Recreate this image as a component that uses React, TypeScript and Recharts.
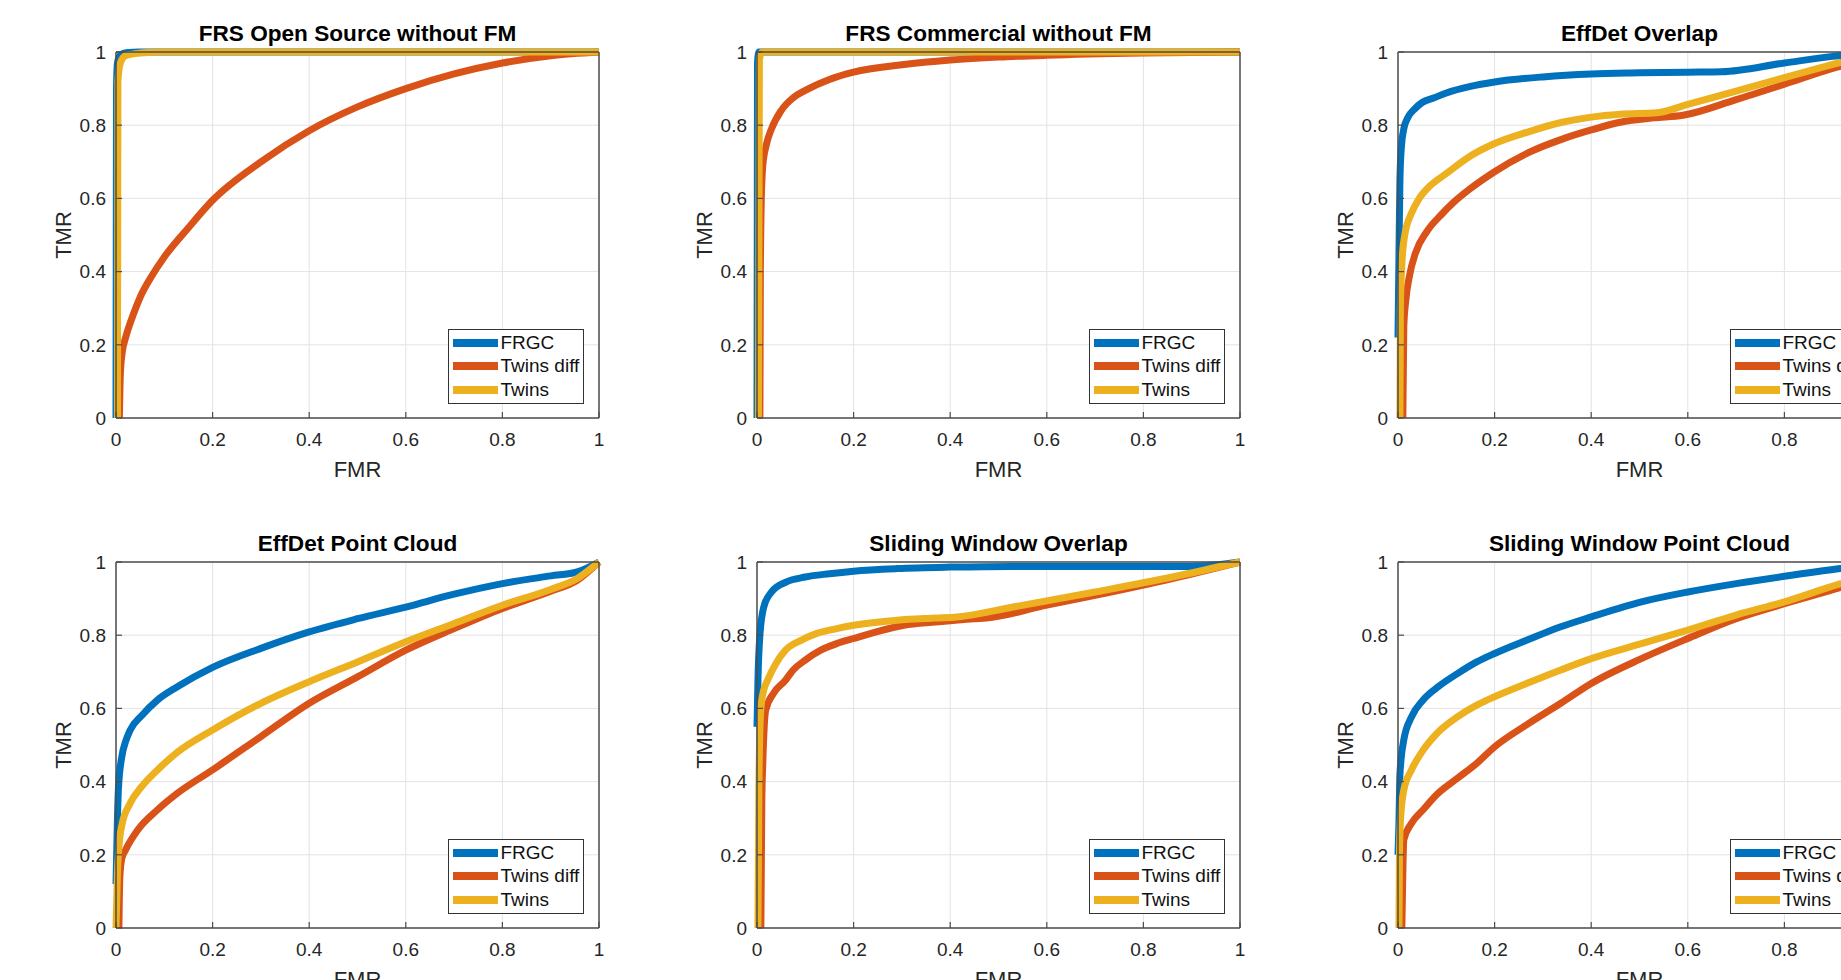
import React from 'react';
import { LineChart, Line, XAxis, YAxis, CartesianGrid, Legend } from 'recharts';

type Pair = [number, number];

const seriesNames = ['FRGC', 'Twins diff', 'Twins'];
const seriesColors = ['#0072BD', '#D95319', '#EDB120'];
const axisTicks = [0, 0.2, 0.4, 0.6, 0.8, 1];

// FRS Open Source without FM
const osFrgc: Pair[] = [[0, 0], [0.001, 0.9], [0.003, 0.97], [0.008, 0.99], [0.02, 0.998], [0.05, 1], [1, 1]];
const osTwinsDiff: Pair[] = [[0.007, 0], [0.009, 0.12], [0.013, 0.18], [0.02, 0.22], [0.035, 0.28], [0.05, 0.33], [0.075, 0.39], [0.1, 0.44], [0.15, 0.52], [0.2, 0.595], [0.3, 0.7], [0.4, 0.785], [0.5, 0.85], [0.6, 0.9], [0.7, 0.94], [0.8, 0.97], [0.9, 0.99], [1, 1]];
const osTwins: Pair[] = [[0.003, 0], [0.0035, 0.5], [0.004, 0.92], [0.009, 0.97], [0.02, 0.99], [0.05, 0.997], [0.1, 1], [1, 1]];

// FRS Commercial without FM
const coFrgc: Pair[] = [[0, 0], [0.001, 0.97], [0.004, 1], [1, 1]];
const coTwinsDiff: Pair[] = [[0.006, 0], [0.007, 0.4], [0.009, 0.6], [0.012, 0.69], [0.02, 0.75], [0.03, 0.79], [0.05, 0.84], [0.075, 0.875], [0.1, 0.895], [0.15, 0.925], [0.2, 0.945], [0.3, 0.965], [0.4, 0.978], [0.5, 0.986], [0.6, 0.991], [0.8, 0.997], [1, 1]];
const coTwins: Pair[] = [[0.003, 0], [0.004, 0.5], [0.005, 0.98], [0.01, 1], [1, 1]];

// EffDet Overlap
const eoFrgc: Pair[] = [[0, 0.22], [0.002, 0.45], [0.004, 0.65], [0.007, 0.74], [0.012, 0.79], [0.02, 0.82], [0.035, 0.845], [0.05, 0.862], [0.075, 0.875], [0.1, 0.888], [0.15, 0.906], [0.2, 0.918], [0.3, 0.932], [0.4, 0.94], [0.5, 0.943], [0.6, 0.945], [0.67, 0.946], [0.8, 0.97], [0.9, 0.988], [1, 1]];
const eoTwinsDiff: Pair[] = [[0.01, 0], [0.012, 0.25], [0.016, 0.32], [0.024, 0.39], [0.036, 0.45], [0.06, 0.51], [0.09, 0.556], [0.115, 0.589], [0.15, 0.627], [0.2, 0.673], [0.27, 0.725], [0.34, 0.762], [0.4, 0.787], [0.46, 0.808], [0.53, 0.82], [0.59, 0.827], [0.7, 0.87], [0.8, 0.912], [0.9, 0.955], [1, 0.99]];
const eoTwins: Pair[] = [[0.004, 0], [0.005, 0.3], [0.008, 0.42], [0.014, 0.5], [0.028, 0.56], [0.044, 0.6], [0.067, 0.635], [0.1, 0.668], [0.15, 0.716], [0.2, 0.75], [0.27, 0.782], [0.34, 0.808], [0.4, 0.822], [0.46, 0.83], [0.536, 0.834], [0.6, 0.857], [0.7, 0.893], [0.8, 0.93], [0.9, 0.966], [1, 1]];

// EffDet Point Cloud
const epFrgc: Pair[] = [[0, 0.12], [0.003, 0.3], [0.005, 0.38], [0.012, 0.468], [0.02, 0.51], [0.029, 0.54], [0.053, 0.58], [0.086, 0.623], [0.127, 0.659], [0.2, 0.712], [0.3, 0.764], [0.4, 0.809], [0.5, 0.845], [0.6, 0.877], [0.7, 0.912], [0.8, 0.941], [0.9, 0.962], [0.955, 0.973], [1, 1]];
const epTwinsDiff: Pair[] = [[0.006, 0], [0.008, 0.14], [0.012, 0.19], [0.02, 0.214], [0.045, 0.268], [0.086, 0.323], [0.127, 0.368], [0.2, 0.432], [0.3, 0.523], [0.4, 0.614], [0.5, 0.686], [0.6, 0.759], [0.7, 0.818], [0.8, 0.873], [0.9, 0.92], [0.955, 0.95], [1, 1]];
const epTwins: Pair[] = [[0, 0], [0.003, 0.15], [0.006, 0.22], [0.012, 0.28], [0.029, 0.34], [0.053, 0.386], [0.086, 0.432], [0.127, 0.48], [0.2, 0.541], [0.3, 0.614], [0.4, 0.673], [0.5, 0.727], [0.6, 0.782], [0.7, 0.832], [0.8, 0.882], [0.9, 0.925], [0.955, 0.955], [1, 1]];

// Sliding Window Overlap
const swFrgc: Pair[] = [[0, 0.55], [0.002, 0.68], [0.006, 0.8], [0.014, 0.877], [0.03, 0.918], [0.06, 0.945], [0.1, 0.959], [0.15, 0.968], [0.2, 0.975], [0.29, 0.982], [0.4, 0.986], [0.53, 0.988], [0.7, 0.988], [0.9, 0.988], [1, 1]];
const swTwinsDiff: Pair[] = [[0.008, 0], [0.01, 0.35], [0.012, 0.45], [0.018, 0.595], [0.034, 0.641], [0.059, 0.677], [0.075, 0.705], [0.1, 0.732], [0.132, 0.759], [0.165, 0.777], [0.2, 0.791], [0.247, 0.809], [0.304, 0.827], [0.37, 0.836], [0.45, 0.845], [0.475, 0.847], [0.6, 0.882], [0.7, 0.909], [0.86, 0.955], [1, 1]];
const swTwins: Pair[] = [[0.002, 0], [0.004, 0.4], [0.008, 0.6], [0.014, 0.65], [0.022, 0.677], [0.038, 0.72], [0.059, 0.759], [0.091, 0.786], [0.124, 0.805], [0.165, 0.818], [0.2, 0.827], [0.29, 0.841], [0.37, 0.847], [0.414, 0.85], [0.53, 0.877], [0.7, 0.918], [0.86, 0.959], [1, 1]];

// Sliding Window Point Cloud
const spFrgc: Pair[] = [[0, 0.2], [0.002, 0.29], [0.004, 0.42], [0.012, 0.514], [0.028, 0.577], [0.052, 0.623], [0.083, 0.659], [0.123, 0.695], [0.163, 0.727], [0.2, 0.75], [0.266, 0.786], [0.337, 0.823], [0.4, 0.85], [0.504, 0.891], [0.6, 0.918], [0.7, 0.941], [0.8, 0.961], [0.915, 0.982], [1, 0.995]];
const spTwinsDiff: Pair[] = [[0.008, 0], [0.01, 0.15], [0.012, 0.241], [0.028, 0.286], [0.052, 0.323], [0.083, 0.368], [0.123, 0.409], [0.163, 0.45], [0.2, 0.495], [0.266, 0.555], [0.337, 0.614], [0.4, 0.668], [0.504, 0.736], [0.6, 0.791], [0.7, 0.845], [0.8, 0.886], [0.915, 0.93], [1, 0.965]];
const spTwins: Pair[] = [[0.002, 0], [0.003, 0.2], [0.005, 0.29], [0.012, 0.377], [0.028, 0.432], [0.052, 0.486], [0.083, 0.535], [0.123, 0.577], [0.163, 0.609], [0.2, 0.632], [0.266, 0.668], [0.337, 0.705], [0.4, 0.736], [0.504, 0.777], [0.6, 0.814], [0.7, 0.855], [0.8, 0.891], [0.915, 0.94], [1, 0.97]];

const panels = [
  { title: 'FRS Open Source without FM', series: [osFrgc, osTwinsDiff, osTwins] },
  { title: 'FRS Commercial without FM', series: [coFrgc, coTwinsDiff, coTwins] },
  { title: 'EffDet Overlap', series: [eoFrgc, eoTwinsDiff, eoTwins] },
  { title: 'EffDet Point Cloud', series: [epFrgc, epTwinsDiff, epTwins] },
  { title: 'Sliding Window Overlap', series: [swFrgc, swTwinsDiff, swTwins] },
  { title: 'Sliding Window Point Cloud', series: [spFrgc, spTwinsDiff, spTwins] },
];

// layout (px)
const PLOT_W = 483;
const PLOT_H = 366;
const COL_X = [116, 757, 1398];
const ROW_Y = [52, 562];
const AX_L = 70;
const AX_R = 10;
const AX_T = 10;
const AX_B = 60;

const FONT = '"Liberation Sans", Arial, Helvetica, sans-serif';
const AXIS_COLOR = '#4d4d4d';
const TEXT_COLOR = '#262626';

const fmtTick = (v: number) => String(Number(v.toFixed(1)));

const LegendBox = ({ payload }: any) => {
  // keep the plotting order, Recharts sorts legend items by name
  const items = [...(payload || [])].sort(
    (a: any, b: any) => seriesNames.indexOf(a.value) - seriesNames.indexOf(b.value)
  );
  return (
    <div
      style={{
        width: 136,
        height: 75,
        boxSizing: 'border-box',
        border: '1.5px solid #333',
        background: '#fff',
        padding: '1px 0 0 3.5px',
        fontFamily: FONT,
        fontSize: 19,
        color: '#111',
      }}
    >
      {items.map((p: any) => (
        <div key={p.value} style={{ display: 'flex', alignItems: 'center', height: 23.5, whiteSpace: 'nowrap' }}>
          <span style={{ display: 'inline-block', width: 45, height: 8, background: p.color, marginRight: 3 }} />
          <span>{p.value}</span>
        </div>
      ))}
    </div>
  );
};

const Panel = ({ title, series, left, top }: { title: string; series: Pair[][]; left: number; top: number }) => {
  const tickStyle = { fill: TEXT_COLOR, fontSize: 19, fontFamily: FONT };
  return (
    <>
      <div
        style={{
          position: 'absolute',
          left,
          top: top - 31,
          width: PLOT_W,
          textAlign: 'center',
          fontFamily: FONT,
          fontWeight: 'bold',
          fontSize: 22.6,
          lineHeight: '26px',
          color: '#000',
          whiteSpace: 'nowrap',
        }}
      >
        {title}
      </div>
      <div
        style={{
          position: 'absolute',
          left: left - 52 - 50,
          top: top + PLOT_H / 2 - 13,
          width: 100,
          height: 26,
          lineHeight: '26px',
          textAlign: 'center',
          transform: 'rotate(-90deg)',
          fontFamily: FONT,
          fontSize: 22,
          color: TEXT_COLOR,
        }}
      >
        TMR
      </div>
      <div
        style={{
          position: 'absolute',
          left: left + PLOT_W / 2 - 50,
          top: top + PLOT_H + 52 - 13,
          width: 100,
          height: 26,
          lineHeight: '26px',
          textAlign: 'center',
          fontFamily: FONT,
          fontSize: 22,
          color: TEXT_COLOR,
        }}
      >
        FMR
      </div>
      <div style={{ position: 'absolute', left: left - AX_L, top: top - AX_T }}>
        <LineChart
          width={AX_L + PLOT_W + AX_R}
          height={AX_T + PLOT_H + AX_B}
          margin={{ top: 0, right: 0, bottom: 0, left: 0 }}
        >
          <CartesianGrid stroke="#e3e3e3" strokeWidth={1} />
          <XAxis
            type="number"
            dataKey="fmr"
            domain={[0, 1]}
            ticks={axisTicks}
            interval={0}
            height={AX_B}
            tickFormatter={fmtTick}
            tick={tickStyle}
            tickSize={-6}
            tickMargin={21}
            axisLine={{ stroke: AXIS_COLOR, strokeWidth: 1.5 }}
            tickLine={{ stroke: AXIS_COLOR, strokeWidth: 1.2 }}
          />
          <XAxis
            xAxisId="top"
            orientation="top"
            type="number"
            domain={[0, 1]}
            ticks={axisTicks}
            interval={0}
            height={AX_T}
            tick={false}
            tickSize={-6}
            axisLine={{ stroke: AXIS_COLOR, strokeWidth: 1.5 }}
            tickLine={{ stroke: AXIS_COLOR, strokeWidth: 1.2 }}
          />
          <YAxis
            type="number"
            domain={[0, 1]}
            ticks={axisTicks}
            interval={0}
            width={AX_L}
            tickFormatter={fmtTick}
            tick={tickStyle}
            tickSize={-6}
            tickMargin={16}
            axisLine={{ stroke: AXIS_COLOR, strokeWidth: 1.5 }}
            tickLine={{ stroke: AXIS_COLOR, strokeWidth: 1.2 }}
          />
          <YAxis
            yAxisId="right"
            orientation="right"
            type="number"
            domain={[0, 1]}
            ticks={axisTicks}
            interval={0}
            width={AX_R}
            tick={false}
            tickSize={-6}
            axisLine={{ stroke: AXIS_COLOR, strokeWidth: 1.5 }}
            tickLine={{ stroke: AXIS_COLOR, strokeWidth: 1.2 }}
          />
          {series.map((pairs, i) => (
            <Line
              key={seriesNames[i]}
              name={seriesNames[i]}
              data={pairs.map(([fmr, tmr]) => ({ fmr, tmr }))}
              dataKey="tmr"
              type="monotone"
              stroke={seriesColors[i]}
              strokeWidth={7}
              dot={false}
              activeDot={false}
              isAnimationActive={false}
            />
          ))}
          <Legend
            layout="horizontal"
            verticalAlign="middle"
            align="center"
            wrapperStyle={{ left: AX_L + 332, top: AX_T + 277, width: 'auto' }}
            content={(props: any) => <LegendBox payload={props.payload} />}
          />
        </LineChart>
      </div>
    </>
  );
};

export default function App() {
  return (
    <div
      style={{
        position: 'fixed',
        left: 0,
        top: 0,
        width: 1841,
        height: 980,
        overflow: 'hidden',
        background: '#fff',
      }}
    >
      {panels.map((p, i) => (
        <Panel
          key={p.title}
          title={p.title}
          series={p.series}
          left={COL_X[i % 3]}
          top={ROW_Y[Math.floor(i / 3)]}
        />
      ))}
    </div>
  );
}
